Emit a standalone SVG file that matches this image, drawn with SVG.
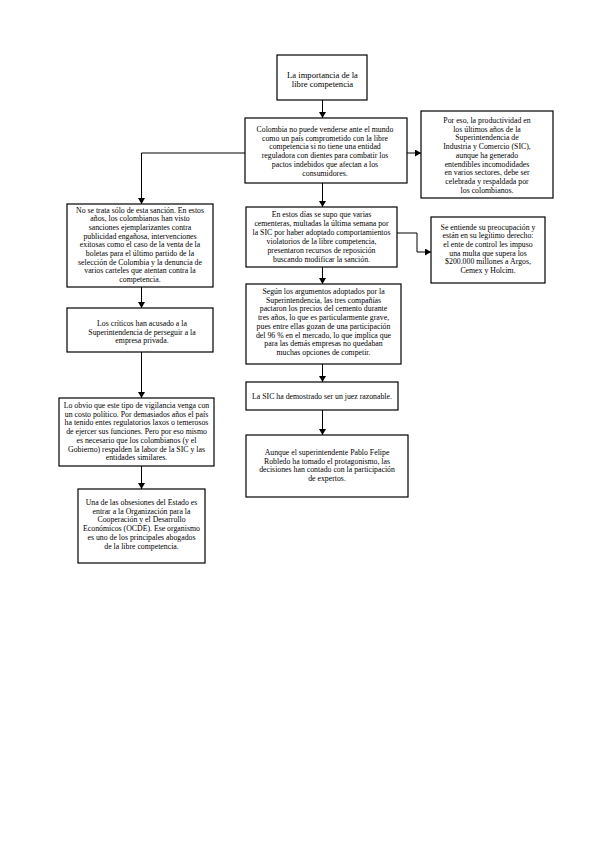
<svg xmlns="http://www.w3.org/2000/svg" width="599" height="848" viewBox="0 0 599 848">
<style>
.box{fill:#fff;stroke:#000;stroke-width:1.2}
.t{font-family:"Liberation Serif","Times New Roman",serif;font-size:7.8px;fill:#000;text-anchor:middle}
.title{font-size:8.6px}
.c{fill:none;stroke:#000;stroke-width:1}
</style>
<defs>
<marker id="ah" markerUnits="userSpaceOnUse" markerWidth="6" markerHeight="7" refX="6" refY="3.5" orient="auto">
<path d="M0,0 L6,3.5 L0,7 Z" fill="#000"/>
</marker>
</defs>
<rect width="599" height="848" fill="#fff"/>
<g id="connectors">
<path class="c" d="M322.5,100 V118" marker-end="url(#ah)"/>
<path class="c" d="M245,153 H141.5 V204" marker-end="url(#ah)"/>
<path class="c" d="M407,153 H421" marker-end="url(#ah)"/>
<path class="c" d="M322.5,183 V207" marker-end="url(#ah)"/>
<path class="c" d="M397,233 H417 V252 H431" marker-end="url(#ah)"/>
<path class="c" d="M322.5,267 V284" marker-end="url(#ah)"/>
<path class="c" d="M322.5,364 V382" marker-end="url(#ah)"/>
<path class="c" d="M322.5,410 V435" marker-end="url(#ah)"/>
<path class="c" d="M141.5,287 V308" marker-end="url(#ah)"/>
<path class="c" d="M141.5,352 V398" marker-end="url(#ah)"/>
<path class="c" d="M141.5,466 V489" marker-end="url(#ah)"/>
</g>
<g id="n1">
<rect class="box" x="277" y="55" width="90" height="45"/>
<text class="t title" x="322.5"><tspan x="322.5" y="78">La importancia de la</tspan><tspan x="322.5" y="87">libre competencia</tspan></text>
</g>
<g id="n2">
<rect class="box" x="245" y="118" width="162" height="65"/>
<text class="t" x="325"><tspan x="325" y="132">Colombia no puede venderse ante el mundo</tspan><tspan x="325" y="140.7">como un país comprometido con la libre</tspan><tspan x="325" y="149.4">competencia si no tiene una entidad</tspan><tspan x="325" y="158.1">reguladora con dientes para combatir los</tspan><tspan x="325" y="166.8">pactos indebidos que afectan a los</tspan><tspan x="325" y="175.5">consumidores.</tspan></text>
</g>
<g id="n3">
<rect class="box" x="421" y="111" width="132" height="87"/>
<text class="t" x="487"><tspan x="487" y="123">Por eso, la productividad en</tspan><tspan x="487" y="131.7">los últimos años de la</tspan><tspan x="487" y="140.4">Superintendencia de</tspan><tspan x="487" y="149.1">Industria y Comercio (SIC),</tspan><tspan x="487" y="157.8">aunque ha generado</tspan><tspan x="487" y="166.5">entendibles incomodidades</tspan><tspan x="487" y="175.2">en varios sectores, debe ser</tspan><tspan x="487" y="183.9">celebrada y respaldada por</tspan><tspan x="487" y="192.6">los colombianos.</tspan></text>
</g>
<g id="n4">
<rect class="box" x="67" y="204" width="146" height="83"/>
<text class="t" x="140"><tspan x="140" y="212.5">No se trata sólo de esta sanción. En estos</tspan><tspan x="140" y="221.2">años, los colombianos han visto</tspan><tspan x="140" y="229.9">sanciones ejemplarizantes contra</tspan><tspan x="140" y="238.6">publicidad engañosa, intervenciones</tspan><tspan x="140" y="247.3">exitosas como el caso de la venta de la</tspan><tspan x="140" y="256">boletas para el último partido de la</tspan><tspan x="140" y="264.7">selección de Colombia y la denuncia de</tspan><tspan x="140" y="273.4">varios carteles que atentan contra la</tspan><tspan x="140" y="282.1">competencia.</tspan></text>
</g>
<g id="n5">
<rect class="box" x="246" y="207" width="151" height="60"/>
<text class="t" x="321.5"><tspan x="321.5" y="217">En estos días se supo que varias</tspan><tspan x="321.5" y="226">cementeras, multadas la última semana por</tspan><tspan x="321.5" y="235">la SIC por haber adoptado comportamientos</tspan><tspan x="321.5" y="244">violatorios de la libre competencia,</tspan><tspan x="321.5" y="253">presentaron recursos de reposición</tspan><tspan x="321.5" y="262">buscando modificar la sanción.</tspan></text>
</g>
<g id="n6">
<rect class="box" x="431" y="217" width="114" height="66"/>
<text class="t" x="488"><tspan x="488" y="229.5">Se entiende su preocupación y</tspan><tspan x="488" y="238.2">están en su legítimo derecho:</tspan><tspan x="488" y="246.9">el ente de control les impuso</tspan><tspan x="488" y="255.6">una multa que supera los</tspan><tspan x="488" y="264.3">$200.000 millones a Argos,</tspan><tspan x="488" y="273">Cemex y Holcim.</tspan></text>
</g>
<g id="n7">
<rect class="box" x="246" y="284" width="155" height="80"/>
<text class="t" x="323.5"><tspan x="323.5" y="294">Según los argumentos adoptados por la</tspan><tspan x="323.5" y="302.7">Superintendencia, las tres compañías</tspan><tspan x="323.5" y="311.4">pactaron los precios del cemento durante</tspan><tspan x="323.5" y="320.1">tres años, lo que es particularmente grave,</tspan><tspan x="323.5" y="328.8">pues entre ellas gozan de una participación</tspan><tspan x="323.5" y="337.5">del 96 % en el mercado, lo que implica que</tspan><tspan x="323.5" y="346.2">para las demás empresas no quedaban</tspan><tspan x="323.5" y="354.9">muchas opciones de competir.</tspan></text>
</g>
<g id="n8">
<rect class="box" x="67" y="308" width="146" height="44"/>
<text class="t" x="142"><tspan x="142" y="326">Los críticos han acusado a la</tspan><tspan x="142" y="334.7">Superintendencia de perseguir a la</tspan><tspan x="142" y="343.4">empresa privada.</tspan></text>
</g>
<g id="n9">
<rect class="box" x="246" y="382" width="152" height="28"/>
<text class="t" x="322" y="399">La SIC ha demostrado ser un juez razonable.</text>
</g>
<g id="n10">
<rect class="box" x="59" y="398" width="155" height="68"/>
<text class="t" x="136.5"><tspan x="136.5" y="408">Lo obvio que este tipo de vigilancia venga con</tspan><tspan x="136.5" y="416.7">un costo político. Por demasiados años el país</tspan><tspan x="136.5" y="425.4">ha tenido entes regulatorios laxos o temerosos</tspan><tspan x="136.5" y="434.1">de ejercer sus funciones. Pero por eso mismo</tspan><tspan x="136.5" y="442.8">es necesario que los colombianos (y el</tspan><tspan x="136.5" y="451.5">Gobierno) respalden la labor de la SIC y las</tspan><tspan x="136.5" y="460.2">entidades similares.</tspan></text>
</g>
<g id="n11">
<rect class="box" x="246" y="435" width="162" height="62"/>
<text class="t" x="327"><tspan x="327" y="455">Aunque el superintendente Pablo Felipe</tspan><tspan x="327" y="463.7">Robledo ha tomado el protagonismo, las</tspan><tspan x="327" y="472.4">decisiones han contado con la participación</tspan><tspan x="327" y="481.1">de expertos.</tspan></text>
</g>
<g id="n12">
<rect class="box" x="78" y="489" width="127" height="74"/>
<text class="t" x="141.5"><tspan x="141.5" y="505">Una de las obsesiones del Estado es</tspan><tspan x="141.5" y="513.7">entrar a la Organización para la</tspan><tspan x="141.5" y="522.4">Cooperación y el Desarrollo</tspan><tspan x="141.5" y="531.1">Económicos (OCDE). Ese organismo</tspan><tspan x="141.5" y="539.8">es uno de los principales abogados</tspan><tspan x="141.5" y="548.5">de la libre competencia.</tspan></text>
</g>
</svg>
